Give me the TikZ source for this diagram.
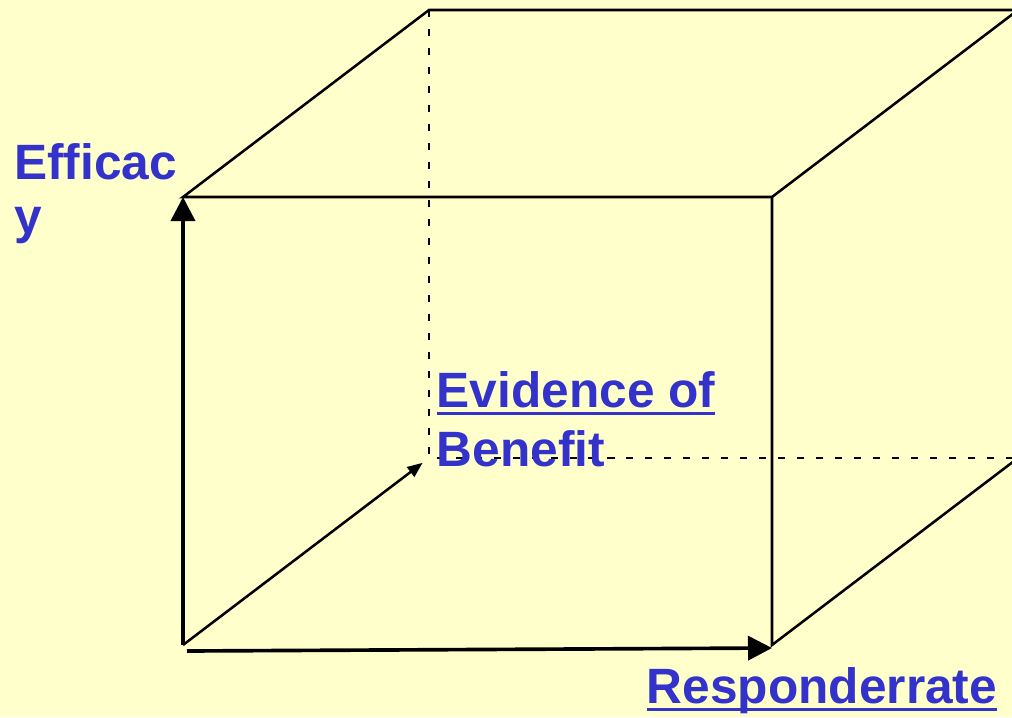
\documentclass[tikz,border=0pt]{standalone}
\usepackage{fontspec}
\setmainfont{Liberation Sans}
\usepackage{tikz}
\usetikzlibrary{arrows.meta}
\definecolor{paper}{RGB}{255,255,204}
\definecolor{labelblue}{RGB}{51,51,204}
\tikzset{every node/.append style={text=labelblue, inner sep=0pt, align=left}}
\newcommand{\ulword}[1]{\setbox0=\hbox{#1}\rlap{\rule[-5.6pt]{\wd0}{2.1pt}}\box0}

\begin{document}
\begin{tikzpicture}[x=0.025cm, y=-0.025cm,
    edge/.style={line width=1.8pt},
    hidden/.style={line width=1.8pt, dash pattern=on 5pt off 8.5pt},
    axis/.style={line width=2.6pt, -{Triangle[length=0.6cm, width=0.6cm]}},
    depth/.style={line width=1.8pt, -{Triangle[length=0.38cm, width=0.3cm]}, shorten >=0.2cm}]
    \fill[paper] (0,0) rectangle (1012,717);
    \useasboundingbox (0,0) rectangle (1012,717);
    \clip (0,0) rectangle (1012,717);
    % cube corners (front face, back face)
    \coordinate (ftl) at (183,197);
    \coordinate (ftr) at (772,197);
    \coordinate (fbr) at (772,645);
    \coordinate (fbl) at (183,645);
    \coordinate (btl) at (429,10);
    \coordinate (btr) at (1018,10);
    \coordinate (bbr) at (1018,458);
    \coordinate (bbl) at (429,458);
    \coordinate (xstart) at (187,651);
    \coordinate (xend) at (772,648);
    % hidden edges
    \draw[hidden] (btl) -- (bbl) -- (bbr);
    % visible edges
    \draw[edge] (ftl) -- (btl) -- (btr) -- (ftr) -- cycle;
    \draw[edge] (ftr) -- (fbr) -- (bbr) -- (btr);
    % axes
    \draw[axis] (fbl) -- (ftl);
    \draw[axis] (xstart) -- (xend);
    \draw[depth] (fbl) -- (bbl);
    % labels (base = last line)
    \node[anchor=base west, font=\fontsize{35.3}{38.4}\selectfont\bfseries] (efficacy) at (14,233) {Efficac\\y};
    \node[anchor=base west, font=\fontsize{35.3}{41.9}\selectfont\bfseries] (benefit) at (436.5,466) {\ulword{Evidence of}\\Benefit};
    \node[anchor=base west, font=\fontsize{35.3}{41.9}\selectfont\bfseries] (rate) at (646.5,703) {\ulword{Responderrate}};
\end{tikzpicture}
\end{document}
